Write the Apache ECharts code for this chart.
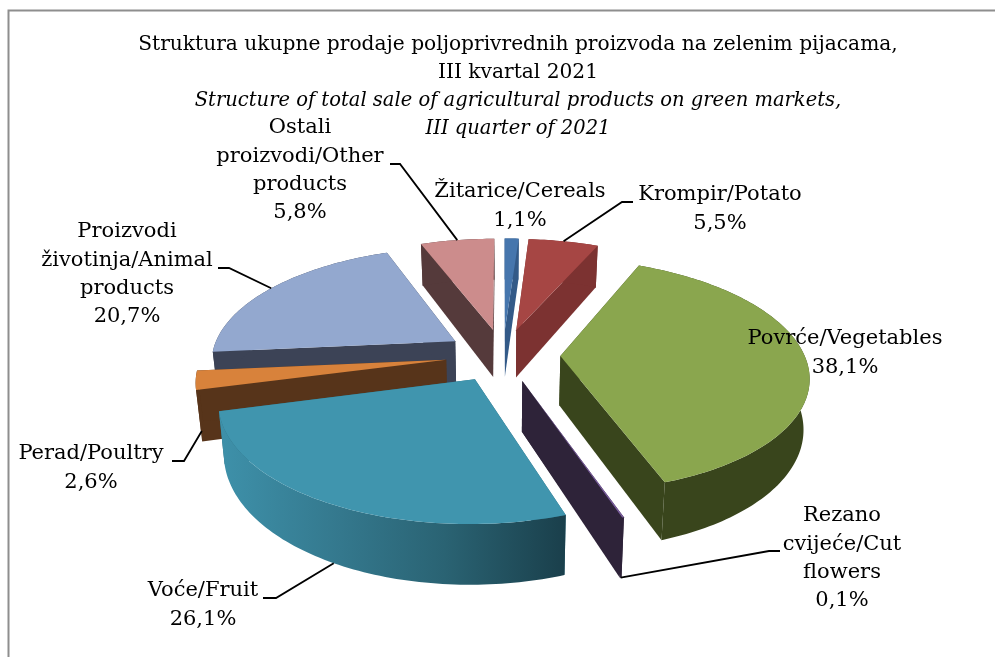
<!DOCTYPE html>
<html>
<head>
<meta charset="utf-8">
<style>html,body{margin:0;background:#fff}#main{width:995px;height:657px}</style>
<script src="https://cdn.jsdelivr.net/npm/echarts@6/dist/echarts.min.js"></script>
</head>
<body>
<div id="main"></div>
<script>
// data
var names = ['Žitarice/Cereals', 'Krompir/Potato', 'Povrće/Vegetables', 'Rezano\ncvijeće/Cut\nflowers', 'Voće/Fruit', 'Perad/Poultry', 'Proizvodi\nživotinja/Animal\nproducts', 'Ostali\nproizvodi/Other\nproducts'];
var shares = [1.1, 5.5, 38.1, 0.1, 26.1, 2.6, 20.7, 5.8];

// colours: top face, wall
var topColors = ['#4676ad', '#a64644', '#8aa64e', '#7a5d9e', '#4095ae', '#d8823b', '#93a8cf', '#cc8c8c'];
var wallColors = ['#335a88', '#7c3231', '#39451c', '#2e2339', '#2c6a7c', '#57341a', '#3c4356', '#553a3b'];

// label centre [x, y of first line], leader start points, does the leader end on the bottom rim
var labelPos = [[520, 192], [720, 195], [845, 339], [842, 516], [203, 591], [91, 454], [127, 232], [300, 128]];
var leaderFrom = [null, [[633, 202], [622, 202]], null, [[780, 551], [769, 551]], [[263, 598], [276, 598]], [[172, 461], [184, 461]], [[218, 268], [229, 268]], [[390, 164], [400, 164]]];
var leaderLow = [false, false, false, true, true, true, false, false];

// 3d projection of the pie plane
var cx = 503, cy = 355, radX = 244, radY = 113, persp = 0.16, explode = 0.235, depth = 49, lowShrink = 0.98;
var font = 'DejaVu Serif';
var fontSize = 21;

var total = shares.reduce(function (a, b) { return a + b; }, 0);
var slices = [];
var acc = 0;
shares.forEach(function (v, i) {
  var a0 = acc / total * Math.PI * 2;
  acc += v;
  var a1 = acc / total * Math.PI * 2;
  var mid = (a0 + a1) / 2;
  slices.push({ i: i, a0: a0, a1: a1, mid: mid, du: Math.sin(mid) * explode, dv: Math.cos(mid) * explode });
});

function project(s, r, a, low) {
  var u = s.du + r * Math.sin(a);
  var v = s.dv + r * Math.cos(a);
  var k = 1 / (1 + persp * v);
  return [cx + radX * u * k * (low ? lowShrink : 1), cy - radY * v * k + (low ? depth * k : 0)];
}

function poly(points, fill) {
  return { type: 'polygon', shape: { points: points }, style: { fill: fill }, silent: true };
}

function arcPoints(s, low) {
  var pts = [];
  var n = Math.max(2, Math.ceil((s.a1 - s.a0) / 0.02));
  for (var j = 0; j <= n; j++) {
    pts.push(project(s, 1, s.a0 + (s.a1 - s.a0) * j / n, low));
  }
  return pts;
}

// back slices first
var drawOrder = slices.slice().sort(function (a, b) { return b.dv - a.dv; }).map(function (s) { return s.i; });

function renderSlice(params, api) {
  var s = slices[api.value(0)];
  var i = s.i;
  var topArc = arcPoints(s, false);
  var lowArc = arcPoints(s, true);
  var wallFill = wallColors[i];
  if (i === 4) {
    // fruit wall is shaded from left to right
    var xs = topArc.map(function (p) { return p[0]; });
    wallFill = new echarts.graphic.LinearGradient(Math.min.apply(null, xs), 0, Math.max.apply(null, xs), 0, [
      { offset: 0, color: '#3e91aa' },
      { offset: 0.35, color: '#34788d' },
      { offset: 0.65, color: '#2a6373' },
      { offset: 1, color: '#1a3f4b' }
    ], true);
  }
  var apex = project(s, 0, 0, false);
  var apexLow = project(s, 0, 0, true);
  var children = [
    poly([apex, topArc[0], lowArc[0], apexLow], wallColors[i]),
    poly([apex, topArc[topArc.length - 1], lowArc[lowArc.length - 1], apexLow], wallColors[i]),
    poly(topArc.concat(lowArc.slice().reverse()), wallFill),
    poly([apex].concat(topArc), topColors[i])
  ];
  return { type: 'group', children: children };
}

function renderLabel(params, api) {
  var i = api.value(0);
  var s = slices[i];
  var children = [];
  var lines = names[i].split('\n');
  lines.push(shares[i].toFixed(1).replace('.', ',') + '%');
  lines.forEach(function (t, j) {
    children.push({
      type: 'text',
      x: labelPos[i][0],
      y: labelPos[i][1] + j * 28.3,
      silent: true,
      style: { text: t, font: fontSize + 'px "' + font + '"', fill: '#000', align: 'center', verticalAlign: 'middle' }
    });
  });
  if (leaderFrom[i]) {
    children.push({
      type: 'polyline',
      silent: true,
      shape: { points: leaderFrom[i].concat([project(s, 1, s.mid, leaderLow[i])]) },
      style: { stroke: '#000', lineWidth: 1.8, fill: null }
    });
  }
  return { type: 'group', children: children };
}

var myChart = echarts.init(document.getElementById('main'));
var option = {
  animation: false,
  backgroundColor: '#fff',
  title: {
    left: 513,
    top: 26,
    textAlign: 'center',
    text: '{a|Struktura ukupne prodaje poljoprivrednih proizvoda na zelenim pijacama,}\n{a|III kvartal 2021}\n{b|Structure of total sale of agricultural products on green markets,}\n{b|III quarter of 2021}',
    textStyle: {
      fontWeight: 'normal',
      rich: {
        a: { fontFamily: font, fontSize: 20.2, fontWeight: 'normal', color: '#000', lineHeight: 28 },
        b: { fontFamily: font, fontSize: 19.5, fontWeight: 'normal', fontStyle: 'italic', color: '#000', lineHeight: 28 }
      }
    }
  },
  graphic: [{
    type: 'polyline',
    silent: true,
    shape: { points: [[8.5, 657], [8.5, 10.5], [995, 10.5]] },
    style: { stroke: '#8e8e8e', lineWidth: 2, fill: null }
  }],
  series: [{
    type: 'custom',
    coordinateSystem: 'none',
    silent: true,
    renderItem: renderSlice,
    encode: {},
    data: drawOrder.map(function (i) { return [i]; })
  }, {
    type: 'custom',
    coordinateSystem: 'none',
    silent: true,
    z: 5,
    renderItem: renderLabel,
    encode: {},
    data: shares.map(function (v, i) { return [i]; })
  }]
};
myChart.setOption(option);
</script>
</body>
</html>
